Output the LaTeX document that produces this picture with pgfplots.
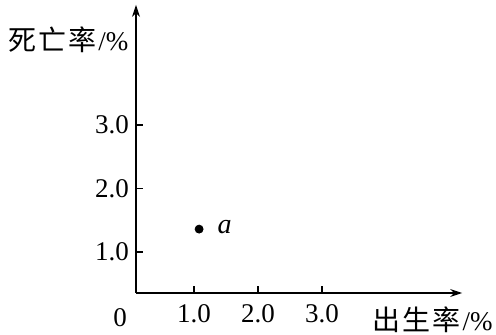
\documentclass[border=0pt]{standalone}
\usepackage{fontspec}
\setmainfont{Liberation Serif}
\newfontfamily\cjk{Noto Sans CJK SC}
\usepackage{pgfplots}
\pgfplotsset{compat=1.18}
\usetikzlibrary{arrows.meta}
\begin{document}
\begin{tikzpicture}
\path[use as bounding box] (0,0) rectangle (248pt,167.5pt);
\begin{axis}[at={(68pt,21pt)}, anchor=south west,
  x=32pt, y=31.75pt,
  xmin=0.094, xmax=5.19, ymin=0.354, ymax=4.89,
  axis lines=left,
  axis line style={line width=0.6pt, -{Stealth[length=6pt,width=4pt]}},
  xtick={1,2,3}, ytick={1,2,3},
  xticklabels={1.0,2.0,3.0}, yticklabels={1.0,2.0,3.0},
  tick align=inside, major tick length=3.5pt,
  tick style={line width=0.6pt, black},
  ticklabel style={font=\fontsize{13.5}{14}\selectfont},
  xticklabel style={yshift=-2pt},
  /pgf/number format/assume math mode=true,
  clip=false]
\addplot[only marks, mark=*, mark size=2pt, black] coordinates {(1.08,1.36)};
\node[font=\fontsize{14}{15}\selectfont\itshape] at (axis cs:1.48,1.39) {a};
\end{axis}
\node[font=\fontsize{13.5}{14}\selectfont] at (60pt,8.5pt) {0};
\node[anchor=west, inner sep=0pt, font=\fontsize{13.5}{14}\selectfont] at (4pt,147.5pt) {{\cjk\fontsize{14}{15}\selectfont 死\hspace{1pt}亡\hspace{1pt}率}\hspace{1pt}/\%};
\node[anchor=east, inner sep=0pt, font=\fontsize{13.5}{14}\selectfont] at (246.5pt,7.5pt) {{\cjk\fontsize{14}{15}\selectfont 出\hspace{1pt}生\hspace{1pt}率}\hspace{1pt}/\%};
\end{tikzpicture}
\end{document}
